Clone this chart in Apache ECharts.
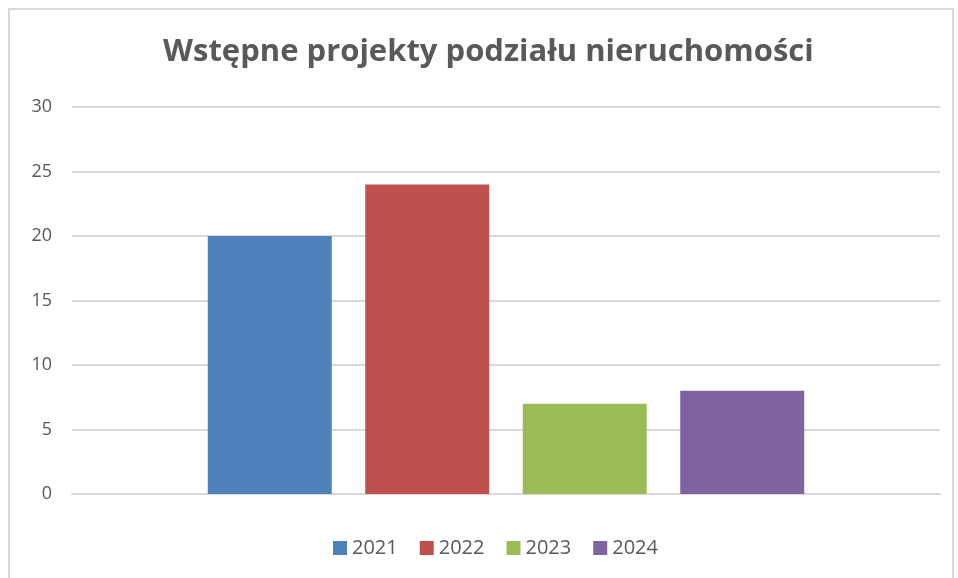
<!DOCTYPE html>
<html lang="pl">
<head>
    <meta charset="UTF-8">
    <title>Wstępne projekty podziału nieruchomości</title>
    <script src="https://cdn.jsdelivr.net/npm/echarts@6/dist/echarts.min.js"></script>
    <style>
        html, body { margin: 0; padding: 0; background: #fff; }
        #frame { position: absolute; left: 8px; top: 8px; width: 946px; height: 580px; border: 2px solid #d9d9d9; box-sizing: border-box; }
        #chart { position: absolute; left: 0; top: 0; width: 958px; height: 578px; }
    </style>
</head>
<body>
<div id="frame"></div>
<div id="chart"></div>
<script>
    var categories = [''];
    var years = ['2021', '2022', '2023', '2024'];
    var values = [20, 24, 7, 8];
    var colors = ['#4f81bd', '#c0504d', '#9bbb59', '#8064a2'];
    var yTicks = [0, 5, 10, 15, 20, 25, 30];

    var chart = echarts.init(document.getElementById('chart'));
    var series = [];
    for (var i = 0; i < years.length; i++) {
        series.push({
            name: years[i],
            type: 'bar',
            data: [values[i]],
            barWidth: 124,
            barGap: '27%',
            itemStyle: { color: colors[i] }
        });
    }
    var option = {
        animation: false,
        title: {
            text: 'Wstępne projekty podziału nieruchomości',
            left: 163,
            top: 37,
            padding: 0,
            textStyle: { fontFamily: 'Open Sans', fontSize: 31, fontWeight: 'bold', color: '#595959' }
        },
        legend: {
            data: years,
            bottom: 15,
            left: 328,
            icon: 'rect',
            itemWidth: 14,
            itemHeight: 14,
            itemGap: 22,
            textStyle: { fontFamily: 'Open Sans', fontSize: 20, color: '#595959' }
        },
        grid: { left: 72, right: 18, top: 107, bottom: 84 },
        xAxis: {
            type: 'category',
            data: categories,
            axisLine: { lineStyle: { color: '#d9d9d9', width: 2 } },
            axisTick: { show: false },
            axisLabel: { show: false }
        },
        yAxis: {
            type: 'value',
            min: yTicks[0],
            max: yTicks[yTicks.length - 1],
            interval: 5,
            axisLine: { show: false },
            axisTick: { show: false },
            axisLabel: { fontFamily: 'Open Sans', fontSize: 18, color: '#595959', margin: 20 },
            splitLine: { lineStyle: { color: '#d9d9d9', width: 2 } }
        },
        series: series
    };
    chart.setOption(option);
</script>
</body>
</html>
